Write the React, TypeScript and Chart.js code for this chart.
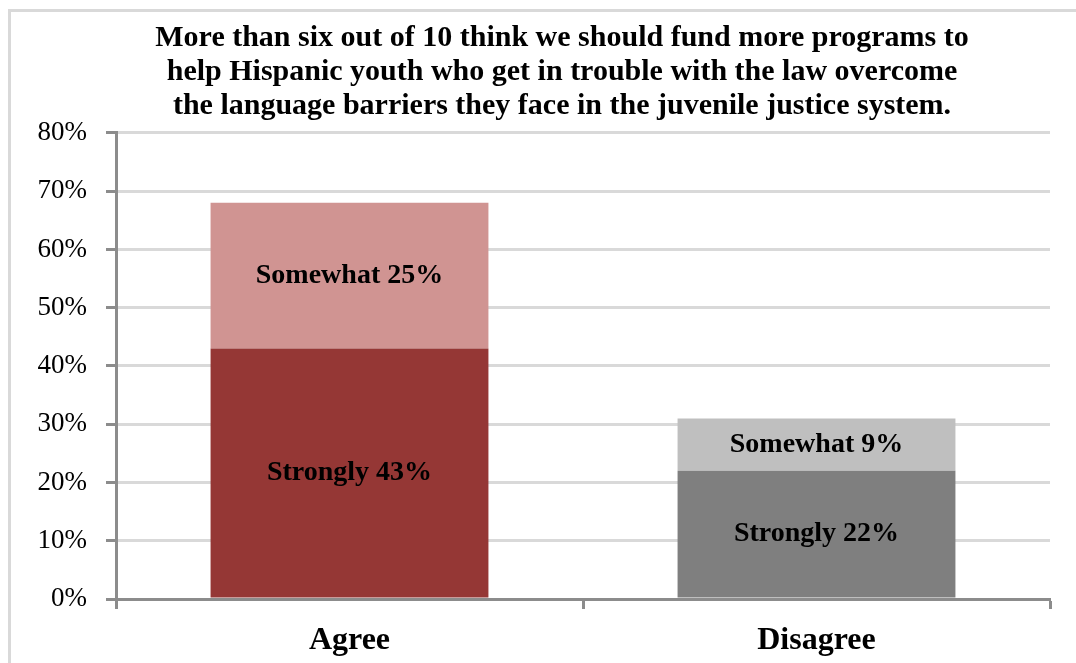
import React, { useEffect, useRef } from "react";
import { Chart, registerables } from "chart.js";

Chart.register(...registerables);

const categories = ["Agree", "Disagree"];
const seriesNames = ["Strongly", "Somewhat"];
const stronglyValues = [43, 22];
const somewhatValues = [25, 9];
const stronglyColors = ["#953735", "#7F7F7F"];
const somewhatColors = ["#D09492", "#BFBFBF"];
const yMin = 0;
const yMax = 80;
const yStep = 10;
const titleLines = [
  "More than six out of 10 think we should fund more programs to",
  "help Hispanic youth who get in trouble with the law overcome",
  "the language barriers they face in the juvenile justice system.",
];

const FONT = "'Liberation Serif', 'Times New Roman', serif";
const AXIS_GRAY = "#8C8C8C";
const GRID_GRAY = "#D9D9D9";

const segmentLabels = {
  id: "segmentLabels",
  afterDatasetsDraw(chart: any) {
    const ctx = chart.ctx;
    ctx.save();
    ctx.font = `bold 28px ${FONT}`;
    ctx.fillStyle = "#000";
    ctx.textAlign = "center";
    ctx.textBaseline = "middle";
    chart.data.datasets.forEach((ds: any, di: number) => {
      const meta = chart.getDatasetMeta(di);
      meta.data.forEach((bar: any, i: number) => {
        const { x, y, base } = bar.getProps(["x", "y", "base"], true);
        ctx.fillText(`${ds.label} ${ds.data[i]}%`, x, (y + base) / 2);
      });
    });
    ctx.restore();
  },
};

export default function App() {
  const canvasRef = useRef<HTMLCanvasElement | null>(null);

  useEffect(() => {
    if (!canvasRef.current) return;
    const chart = new Chart(canvasRef.current, {
      type: "bar",
      data: {
        labels: categories,
        datasets: [
          {
            label: seriesNames[0],
            data: stronglyValues,
            backgroundColor: stronglyColors,
            barPercentage: 0.595,
            categoryPercentage: 1,
          },
          {
            label: seriesNames[1],
            data: somewhatValues,
            backgroundColor: somewhatColors,
            barPercentage: 0.595,
            categoryPercentage: 1,
          },
        ],
      },
      options: {
        responsive: false,
        animation: false,
        devicePixelRatio: 1,
        layout: { padding: { left: 0, right: 0, top: 0, bottom: 0 } },
        plugins: {
          legend: { display: false },
          tooltip: { enabled: false },
          title: {
            display: true,
            text: titleLines,
            color: "#000",
            font: { family: FONT, size: 30, weight: "bold", lineHeight: 1.133 },
            padding: { top: 21, bottom: 10 },
          },
        },
        scales: {
          x: {
            stacked: true,
            grid: {
              drawOnChartArea: false,
              drawTicks: true,
              tickLength: 10,
              tickColor: AXIS_GRAY,
              tickWidth: 3,
              offset: true,
            },
            border: { color: AXIS_GRAY, width: 3 },
            ticks: {
              color: "#000",
              font: { family: FONT, size: 32, weight: "bold" },
              padding: 13,
            },
            afterFit: (s: any) => {
              s.height = 64;
            },
          },
          y: {
            stacked: true,
            min: yMin,
            max: yMax,
            ticks: {
              stepSize: yStep,
              color: "#000",
              font: { family: FONT, size: 27 },
              padding: 19,
              callback: (v: any) => `${v}%`,
            },
            grid: {
              color: GRID_GRAY,
              lineWidth: 3,
              tickColor: AXIS_GRAY,
              tickWidth: 3,
              tickLength: 10,
            },
            border: { color: AXIS_GRAY, width: 3 },
            afterFit: (s: any) => {
              s.width = 116;
            },
          },
          spacer: {
            type: "linear",
            position: "right",
            display: true,
            ticks: { display: false },
            grid: { display: false, drawTicks: false },
            border: { display: false },
            afterFit: (s: any) => {
              s.width = 74;
            },
          },
        },
      },
      plugins: [segmentLabels],
    });
    return () => chart.destroy();
  }, []);

  return (
    <div
      style={{
        position: "fixed",
        left: 0,
        top: 0,
        width: 1076,
        height: 663,
        overflow: "hidden",
        background: "#fff",
      }}
    >
      <div
        style={{
          position: "absolute",
          left: 8,
          top: 9,
          width: 1200,
          height: 800,
          border: `3px solid ${GRID_GRAY}`,
          boxSizing: "border-box",
        }}
      />
      <canvas
        ref={canvasRef}
        width={1124}
        height={663}
        style={{ position: "absolute", left: 0, top: 0, width: 1124, height: 663 }}
      />
    </div>
  );
}
